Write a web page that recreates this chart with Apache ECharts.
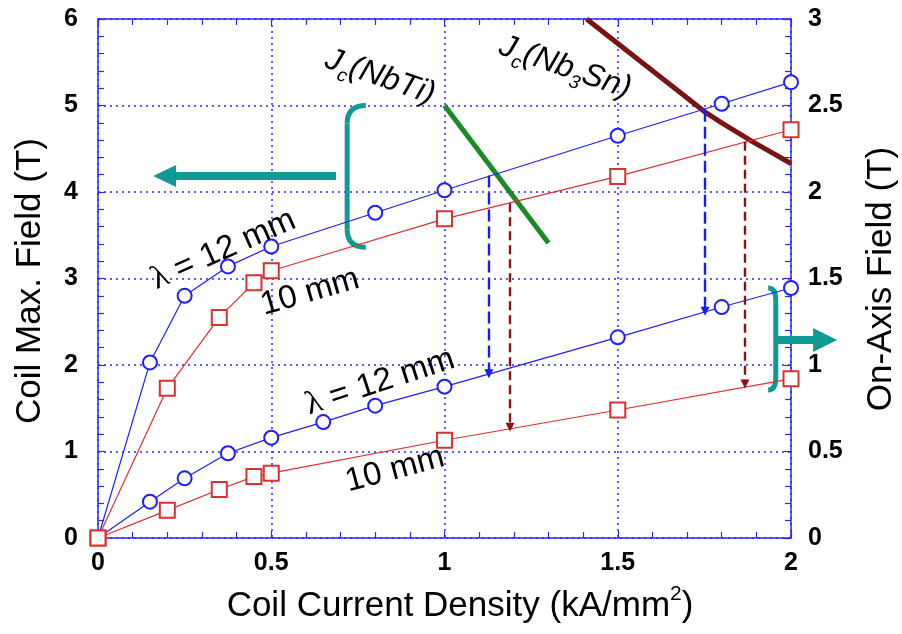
<!DOCTYPE html>
<html>
<head>
<meta charset="utf-8">
<script src="https://cdn.jsdelivr.net/npm/echarts/dist/echarts.min.js"></script>
<style>
  html, body { margin: 0; padding: 0; background: #fff; }
  #main { width: 902px; height: 634px; }
</style>
</head>
<body>
<div id="main"></div>
<script>
// coil current density (kA/mm2) vs coil max field (T), left axis
var xUpper12 = [0, 0.15, 0.25, 0.375, 0.5, 0.8, 1.0, 1.5, 1.8, 2.0];
var maxField12 = [0, 2.03, 2.80, 3.14, 3.37, 3.76, 4.02, 4.65, 5.02, 5.27];
var xUpper10 = [0, 0.2, 0.35, 0.45, 0.5, 1.0, 1.5, 2.0];
var maxField10 = [0, 1.73, 2.55, 2.95, 3.09, 3.69, 4.18, 4.72];

// on-axis field (T), right axis
var xLower12 = [0, 0.15, 0.25, 0.375, 0.5, 0.65, 0.8, 1.0, 1.5, 1.8, 2.0];
var axisField12 = [0, 0.21, 0.345, 0.49, 0.58, 0.67, 0.765, 0.875, 1.16, 1.335, 1.445];
var xLower10 = [0, 0.2, 0.35, 0.45, 0.5, 1.0, 1.5, 2.0];
var axisField10 = [0, 0.16, 0.28, 0.355, 0.375, 0.565, 0.74, 0.92];

// critical current load lines (left axis)
var jcNbTiX = [1.0, 1.3];
var jcNbTiY = [5.0, 3.41];
var jcNb3SnX = [1.41, 1.75, 1.80, 1.89, 2.0];
var jcNb3SnY = [6.0, 4.93, 4.80, 4.58, 4.33];

// operating points projected down (left axis units)
var dropX = [1.128, 1.189, 1.752, 1.867];
var dropTop = [4.19, 3.87, 4.95, 4.58];
var dropBottom = [1.90, 1.28, 2.62, 1.78];
var dropColor = ['#1a1aff', '#8b1515', '#1a1aff', '#8b1515'];

function zip(xs, ys) {
  return xs.map(function (x, i) { return [x, ys[i]]; });
}

var blue = '#1f1fff';
var red = '#dd3030';
var teal = '#119a95';
var gridBlue = '#2a2aff';
var font = 'Liberation Sans, Arial, sans-serif';

var chartDom = document.getElementById('main');
var myChart = echarts.init(chartDom);

function xAxisCfg(pos, labels) {
  return {
    type: 'value', position: pos, min: 0, max: 2, interval: 0.5,
    axisLine: { show: true, onZero: false, lineStyle: { color: gridBlue, width: 1.5 } },
    axisTick: { show: true, inside: true, length: 7, lineStyle: { color: gridBlue, width: 1.2 } },
    minorTick: { show: true, splitNumber: 5, length: 6, lineStyle: { color: gridBlue, width: 1.2 } },
    axisLabel: { show: labels, margin: 13, color: '#000', fontWeight: 'bold', fontSize: 25, fontFamily: font },
    splitLine: { show: labels, lineStyle: { color: gridBlue, type: [2, 4], width: 1.5 } }
  };
}

function yAxisCfg(pos, max, interval, split) {
  return {
    type: 'value', position: pos, min: 0, max: max, interval: interval,
    axisLine: { show: true, onZero: false, lineStyle: { color: gridBlue, width: 1.5 } },
    axisTick: { show: true, inside: true, length: 7, lineStyle: { color: gridBlue, width: 1.2 } },
    minorTick: { show: true, splitNumber: 5, length: 6, lineStyle: { color: gridBlue, width: 1.2 } },
    axisLabel: { show: true, margin: pos === 'left' ? 20 : 17, color: '#000', fontWeight: 'bold', fontSize: 25, fontFamily: font },
    splitLine: { show: split, lineStyle: { color: gridBlue, type: [2, 4], width: 1.5 } }
  };
}

function dataSeries(data, yIndex, color, symbol, size) {
  return {
    type: 'line', data: data, yAxisIndex: yIndex, xAxisIndex: 0,
    symbol: symbol, symbolSize: size, showSymbol: true, clip: false, z: 4,
    lineStyle: { color: color, width: 1.2 },
    itemStyle: { color: color, borderColor: color, borderWidth: 1.4 },
    emphasis: { disabled: true }
  };
}

var dropLines = dropX.map(function (x, i) {
  return [
    { coord: [x, dropTop[i]], lineStyle: { color: dropColor[i], type: i % 2 ? [9, 5] : [12, 5], width: 2.4 },
      itemStyle: { color: dropColor[i] } },
    { coord: [x, dropBottom[i]] }
  ];
});

var option = {
  animation: false,
  backgroundColor: '#fff',
  grid: { left: 98, right: 111, top: 19, bottom: 96, containLabel: false, outerBoundsMode: 'none' },
  xAxis: [xAxisCfg('bottom', true), xAxisCfg('top', false)],
  yAxis: [yAxisCfg('left', 6, 1, true), yAxisCfg('right', 3, 0.5, false)],
  series: [
    {
      type: 'line', data: zip(jcNbTiX, jcNbTiY), symbol: 'none', z: 3, clip: false,
      lineStyle: { color: '#1e8a26', width: 5 }, emphasis: { disabled: true }
    },
    {
      type: 'line', data: zip(jcNb3SnX, jcNb3SnY), symbol: 'none', z: 3, clip: true,
      lineStyle: { color: '#7a1414', width: 5 }, emphasis: { disabled: true },
      markLine: {
        silent: true, symbol: ['none', 'triangle'], symbolSize: [9, 9],
        label: { show: false }, data: dropLines, animation: false
      }
    },
    dataSeries(zip(xUpper12, maxField12), 0, blue, 'emptyCircle', 14),
    dataSeries(zip(xUpper10, maxField10), 0, red, 'emptyRect', 15),
    dataSeries(zip(xLower12, axisField12), 1, blue, 'emptyCircle', 14),
    dataSeries(zip(xLower10, axisField10), 1, red, 'emptyRect', 15)
  ]
};

option && myChart.setOption(option);

// annotations: anchors in data units of the left axis
function px(p) {
  return myChart.convertToPixel({ xAxisIndex: 0, yAxisIndex: 0 }, p);
}

function arrow(tail, tip, shaftW, headL, headW) {
  var a = px(tail), b = px(tip);
  var dx = b[0] - a[0], dy = b[1] - a[1];
  var len = Math.sqrt(dx * dx + dy * dy);
  var ux = dx / len, uy = dy / len, nx = -uy, ny = ux;
  var bx = b[0] - ux * headL, by = b[1] - uy * headL;
  return {
    type: 'polygon', z: 10,
    shape: { points: [
      [a[0] + nx * shaftW / 2, a[1] + ny * shaftW / 2],
      [bx + nx * shaftW / 2, by + ny * shaftW / 2],
      [bx + nx * headW / 2, by + ny * headW / 2],
      b,
      [bx - nx * headW / 2, by - ny * headW / 2],
      [bx - nx * shaftW / 2, by - ny * shaftW / 2],
      [a[0] - nx * shaftW / 2, a[1] - ny * shaftW / 2]
    ] },
    style: { fill: teal }
  };
}

function bracket(xV, xE, yT, yB, r) {
  var t = px([xE, yT]), v = px([xV, yT]), bt = px([xV, yB]), e = px([xE, yB]);
  var st = { stroke: teal, lineWidth: 5, fill: null };
  return {
    type: 'group', z: 10,
    children: [
      { type: 'bezierCurve', shape: { x1: t[0], y1: t[1], cpx1: v[0], cpy1: v[1], x2: v[0], y2: v[1] + r }, style: st },
      { type: 'line', shape: { x1: v[0], y1: v[1] + r, x2: bt[0], y2: bt[1] - r }, style: st },
      { type: 'bezierCurve', shape: { x1: bt[0], y1: bt[1] - r, cpx1: bt[0], cpy1: bt[1], x2: e[0], y2: e[1] }, style: st }
    ]
  };
}

var mainRich = {
  n: { fontSize: 33, fontFamily: font, lineHeight: 42, fill: '#000' },
  l: { fontSize: 33, fontFamily: 'Liberation Serif, serif', lineHeight: 42, fill: '#000' },
  i: { fontSize: 32, fontFamily: font, fontStyle: 'italic', lineHeight: 42, fill: '#000' },
  s: { fontSize: 19, fontFamily: font, fontStyle: 'italic', lineHeight: 20, verticalAlign: 'bottom', fill: '#000' }
};

function label(text, at, deg) {
  var p = px(at);
  return {
    type: 'text', x: p[0], y: p[1], rotation: deg * Math.PI / 180, z: 11,
    style: { text: text, rich: mainRich, align: 'center', verticalAlign: 'middle' }
  };
}

var titleRich = {
  n: { fontSize: 35, fontFamily: font, lineHeight: 44, fill: '#000' },
  sup: { fontSize: 21, fontFamily: font, lineHeight: 44, verticalAlign: 'top', fill: '#000' }
};

function title(text, x, y, deg) {
  return {
    type: 'text', x: x, y: y, rotation: deg * Math.PI / 180, z: 11,
    style: { text: text, rich: titleRich, align: 'center', verticalAlign: 'middle' }
  };
}

myChart.setOption({
  graphic: [
    arrow([0.687, 4.185], [0.159, 4.185], 8, 23, 22),
    bracket(0.719, 0.773, 5.0, 3.36, 18),
    arrow([1.954, 2.29], [2.133, 2.29], 8, 24, 24),
    bracket(1.956, 1.934, 2.89, 1.71, 12),
    label('{l|λ}{n| = 12 mm}', [0.362, 3.33], 24),
    label('{n|10 mm}', [0.612, 2.84], 16),
    label('{l|λ}{n| = 12 mm}', [0.814, 1.80], 18),
    label('{n|10 mm}', [0.857, 0.79], 15),
    label('{i|J}{s|c}{i|(NbTi)}', [0.814, 5.33], -19),
    label('{i|J}{s|c}{i|(Nb}{s|3}{i|Sn)}', [1.348, 5.44], -19),
    title('{n|Coil Max. Field (T)}', 30, 281, 90),
    title('{n|On-Axis Field (T)}', 881, 279, 90),
    title('{n|Coil Current Density (kA/mm}{sup|2}{n|)}', 460, 606, 0)
  ]
});
</script>
</body>
</html>
